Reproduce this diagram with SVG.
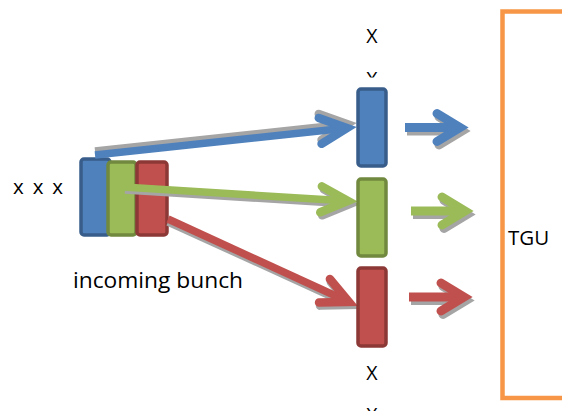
<svg xmlns="http://www.w3.org/2000/svg" width="562" height="411" viewBox="0 0 562 411">
<style>
text{font-family:"Open Sans","Noto Sans","Liberation Sans",sans-serif;fill:#000}
.sh{stroke:#A5A5A5}
.bl{stroke:#4F81BD}
.gr{stroke:#9BBB59}
.rd{stroke:#C0504D}
.ln{fill:none;stroke-width:7.5}
.ar{fill:none;stroke-width:9}
.bx{stroke-width:3.5}
.bB{fill:#4F81BD;stroke:#385D8A}
.bG{fill:#9BBB59;stroke:#71893F}
.bR{fill:#C0504D;stroke:#8C3836}
.hs{fill:none;stroke-width:8.5;stroke-linecap:round}
.hb{fill:none;stroke-width:9;stroke-linecap:round}
</style>
<defs>
<marker id="mSh" markerUnits="userSpaceOnUse" orient="auto" markerWidth="1" markerHeight="1" style="overflow:visible"><path class="hs" d="M-27,-13 L0,0 L-27,13" stroke="#A5A5A5"/></marker>
<marker id="mB" markerUnits="userSpaceOnUse" orient="auto" markerWidth="1" markerHeight="1" style="overflow:visible"><path class="hs" d="M-27,-13 L0,0 L-27,13" stroke="#4F81BD"/></marker>
<marker id="mG" markerUnits="userSpaceOnUse" orient="auto" markerWidth="1" markerHeight="1" style="overflow:visible"><path class="hs" d="M-27,-13 L0,0 L-27,13" stroke="#9BBB59"/></marker>
<marker id="mR" markerUnits="userSpaceOnUse" orient="auto" markerWidth="1" markerHeight="1" style="overflow:visible"><path class="hs" d="M-27,-13 L0,0 L-27,13" stroke="#C0504D"/></marker>
<marker id="nSh" markerUnits="userSpaceOnUse" orient="auto" markerWidth="1" markerHeight="1" style="overflow:visible"><path class="hb" d="M-23,-14 L0,0 L-23,14" stroke="#A5A5A5"/></marker>
<marker id="nB" markerUnits="userSpaceOnUse" orient="auto" markerWidth="1" markerHeight="1" style="overflow:visible"><path class="hb" d="M-23,-14 L0,0 L-23,14" stroke="#4F81BD"/></marker>
<marker id="nG" markerUnits="userSpaceOnUse" orient="auto" markerWidth="1" markerHeight="1" style="overflow:visible"><path class="hb" d="M-23,-14 L0,0 L-23,14" stroke="#9BBB59"/></marker>
<marker id="nR" markerUnits="userSpaceOnUse" orient="auto" markerWidth="1" markerHeight="1" style="overflow:visible"><path class="hb" d="M-23,-14 L0,0 L-23,14" stroke="#C0504D"/></marker>
<clipPath id="cTop"><rect x="340" y="60" width="60" height="17.5"/></clipPath>
</defs>

<g id="tgu">
<rect x="502.5" y="11.5" width="100" height="386.5" fill="none" stroke="#F79646" stroke-width="4.5"/>
<text x="508" y="245" font-size="20.5">TGU</text>
</g>

<g id="labels">
<text x="13" y="194" font-size="20.5" textLength="50" lengthAdjust="spacing">x x x</text>
<text x="73" y="288" font-size="22.5" textLength="170" lengthAdjust="spacingAndGlyphs">incoming bunch</text>
<text x="372" y="43" font-size="19.5" text-anchor="middle">X</text>
<text x="372" y="86" font-size="19.5" text-anchor="middle" clip-path="url(#cTop)">X</text>
<text x="372" y="380" font-size="19.5" text-anchor="middle">X</text>
<text x="372" y="422" font-size="19.5" text-anchor="middle">X</text>
</g>

<g id="incoming-bunch">
<rect id="in-blue" class="bx bB" x="81" y="159" width="29" height="76" rx="3"/>
<rect id="in-green" class="bx bG" x="108" y="162" width="28" height="73" rx="3"/>
<rect id="in-red" class="bx bR" x="137" y="162" width="30" height="73" rx="3"/>
</g>

<g id="connectors">
<path class="ln sh" d="M95,151 L347,124" marker-end="url(#mSh)"/>
<path class="ln bl" d="M95,155 L347,128" marker-end="url(#mB)"/>
<path class="ln sh" d="M125,190 L350,204" marker-end="url(#mSh)"/>
<path class="ln gr" d="M123,187 L348,201" marker-end="url(#mG)"/>
<path class="ln sh" d="M168,222 L350,305" marker-end="url(#mSh)"/>
<path class="ln rd" d="M168,219 L349,302" marker-end="url(#mR)"/>
<path class="ar sh" d="M407,131 L462,131" marker-end="url(#nSh)"/>
<path class="ar bl" d="M405,127.5 L460,127.5" marker-end="url(#nB)"/>
<path class="ar sh" d="M413,214.5 L467,214.5" marker-end="url(#nSh)"/>
<path class="ar gr" d="M411,211 L465,211" marker-end="url(#nG)"/>
<path class="ar sh" d="M411,300.5 L466,300.5" marker-end="url(#nSh)"/>
<path class="ar rd" d="M409,297 L464,297" marker-end="url(#nR)"/>
</g>

<g id="target-blue"><rect class="bx bB" x="358" y="89" width="28" height="77" rx="3"/></g>
<g id="target-green"><rect class="bx bG" x="358" y="179" width="28" height="77" rx="3"/></g>
<g id="target-red"><rect class="bx bR" x="358" y="268" width="28" height="78" rx="3"/></g>
</svg>
